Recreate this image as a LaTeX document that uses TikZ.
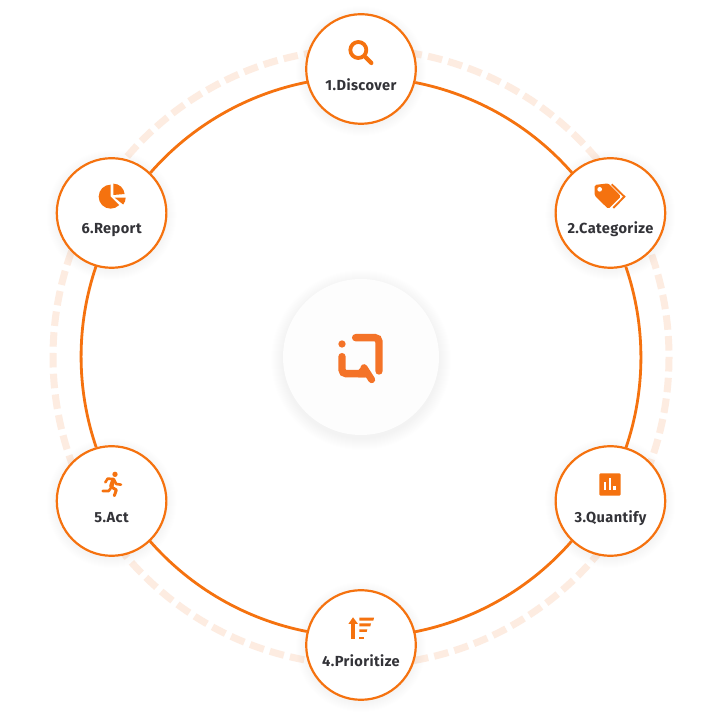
\documentclass[tikz,border=0pt]{standalone}
\usepackage{fontspec}
\setmainfont{Fira Sans}[LetterSpace=2.8]
\usetikzlibrary{calc}
\definecolor{org}{HTML}{F5720F}
\definecolor{logoc}{HTML}{F47328}
\definecolor{pale}{HTML}{FDECE1}
\definecolor{txt}{HTML}{333338}
\definecolor{hubc}{HTML}{FDFDFD}
\tikzset{
  stepnode/.style={circle,draw=org,line width=2.2pt,fill=white,minimum size=109.6pt,inner sep=0pt},
  steptext/.style={font=\bfseries\fontsize{14.6}{16}\selectfont,text=txt,inner sep=0pt,anchor=base},
  ringline/.style={draw=org,line width=2.8pt},
  iconat/.style 2 args={shift={(#1pt,719pt-#2pt)},x=0.33333pt,y=-0.33333pt},
  ic/.style={fill=org,draw=none},
  icl/.style={draw=org,line cap=round,line join=round},
}
\begin{document}
\begin{tikzpicture}[x=1pt,y=1pt]
\useasboundingbox (0,0) rectangle (717,719);
\fill[white] (0,0) rectangle (717,719);
\coordinate (C) at (361,362);
% dashed outer ring
\draw[pale,line width=7pt,dash pattern=on 14.5pt off 6.31pt,dash phase=14.36pt] (C) circle[radius=308];
% shadow of the centre disc
\foreach \r in {90,89,...,79}{\fill[black,opacity=0.002] ($(C)+(0,-3)$) circle[radius=\r];}
\node[circle,fill=hubc,minimum size=156pt,inner sep=0pt] (hub) at (C) {};
% step node shadows
\foreach \i/\a in {1/90,2/30,3/-30,4/-90,5/-150,6/150}{
  \foreach \r in {65,64,...,56}{\fill[black,opacity=0.0025] ($(C)+(\a:288)+(0,-2)$) circle[radius=\r];}
}
\foreach \i/\a in {1/90,2/30,3/-30,4/-90,5/-150,6/150}{
  \node[stepnode] (n\i) at ($(C)+(\a:288)$) {};
}
% connectors between steps
\foreach \i/\j/\a in {1/2/90,2/3/30,3/4/-30,4/5/-90,5/6/-150,6/1/150}{
  \pgfmathsetmacro{\st}{\a-11.1}
  \pgfmathsetmacro{\en}{\a-48.9}
  \pgfmathsetmacro{\an}{\a+256.2}
  \draw[ringline] (n\i.\an) arc[start angle=\st,end angle=\en,radius=280];
}
% labels
\node[steptext] (t1) at ($(n1)+(0,-21.8)$) {1.Discover};
\node[steptext] (t2) at ($(n2)+(0,-20.8)$) {2.Categorize};
\node[steptext] (t3) at ($(n3)+(0,-21.8)$) {3.Quantify};
\node[steptext] (t4) at ($(n4)+(0,-21.5)$) {4.Prioritize};
\node[steptext] (t5) at ($(n5)+(0,-21.8)$) {5.Act};
\node[steptext] (t6) at ($(n6)+(0,-20.8)$) {6.Report};
% icon 1
\begin{scope}[iconat={290}{0}]
  \draw[icl,line width=3.8pt] (205,150) circle[radius=24];
  \draw[icl,line width=4.2pt] (226,171) -- (244,189);
\end{scope}
% icon 2
\begin{scope}[iconat={540}{150}]
  \fill[ic,rounded corners=1.5pt] (164,105) -- (205,100) -- (243,139) -- (205,177) -- (164,137) -- cycle;
  \fill[white] (179,118) circle[radius=7];
  \draw[icl,line width=1.9pt,line cap=butt,line join=miter] (215,103) -- (253,140) -- (220,174);
\end{scope}
% icon 3
\begin{scope}[iconat={540}{435}]
  \fill[ic,rounded corners=1.3pt] (178,115) rectangle (242,182);
  \fill[white] (192,142) rectangle (199,166);
  \fill[white] (206,130) rectangle (213,166);
  \fill[white] (220,153) rectangle (227,166);
\end{scope}
% icon 4
\begin{scope}[iconat={290}{580}]
  \fill[ic] (184,128) rectangle (194,178);
  \fill[ic] (175,132) -- (189,112) -- (204,132) -- cycle;
  \fill[ic] (208,113) -- (252,113) -- (250,122) -- (208,122) -- cycle;
  \fill[ic] (208,130) -- (243,130) -- (241,139) -- (208,139) -- cycle;
  \fill[ic] (208,148) -- (232,148) -- (230,156) -- (208,156) -- cycle;
  \fill[ic] (208,170) rectangle (222,178);
\end{scope}
% icon 5
\begin{scope}[iconat={45}{435}]
  \fill[ic] (210,118) circle[radius=8];
  \draw[icl,line width=4.4pt] (205,135) -- (199,153);
  \draw[icl,line width=2.6pt] (208,136) -- (214,147) -- (228,149);
  \draw[icl,line width=2.6pt] (205,132) -- (188,131) -- (181,142);
  \draw[icl,line width=3pt] (198,155) -- (214,165) -- (208,182);
  \draw[icl,line width=2.6pt] (197,160) -- (191,168) -- (173,168);
\end{scope}
% icon 6
\begin{scope}[iconat={45}{150}]
  \fill[ic] (197,104) arc[start angle=-90,end angle=-315,radius=36] -- (197,140) -- cycle;
  \fill[ic] (205,101) arc[start angle=-90,end angle=-5,radius=34] -- (205,135) -- cycle;
  \fill[ic] (209,143) -- (242,143) arc[start angle=0,end angle=40,radius=32] -- cycle;
\end{scope}
% centre logo
\begin{scope}[iconat={270}{270}]
  \fill[logoc] (216,222) circle[radius=11];
  \draw[logoc,line width=7.4pt,line cap=round,rounded corners=4pt] (257,203) -- (327,203) -- (327,303);
  \draw[hubc,line width=2.6pt] (296,284) -- (326,332);
  \draw[logoc,line width=7.4pt,line cap=round,rounded corners=4pt] (216,260) -- (216,311) -- (285,311);
  \fill[logoc,rounded corners=1pt] (262,304) -- (280,284) -- (296,322) -- (262,322) -- cycle;
  \draw[logoc,line width=7pt,line cap=round] (282,293) -- (305,329);
\end{scope}
\end{tikzpicture}
\end{document}
